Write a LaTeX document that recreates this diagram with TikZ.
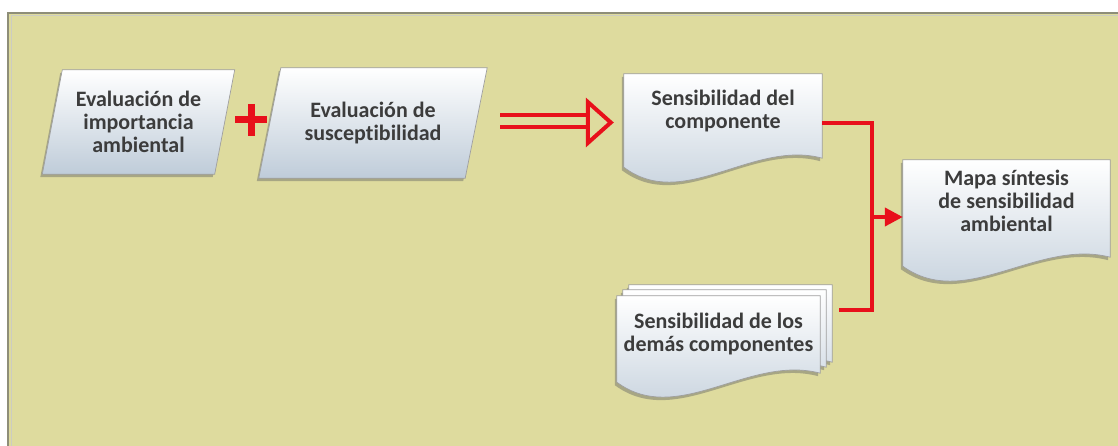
\documentclass[tikz,border=0pt]{standalone}
\usepackage{fontspec}
\setmainfont{Carlito}[Ligatures=NoCommon]
\usetikzlibrary{calc,shadows,arrows.meta}

\definecolor{fondo}{HTML}{DEDB9E}
\definecolor{marco}{HTML}{8E8E78}
\definecolor{rojo}{HTML}{E8101A}
\definecolor{texto}{HTML}{3C3C3C}
\definecolor{azul}{HTML}{BFCCD9}

\pgfdeclarelayer{framelayer}
\pgfdeclarelayer{bglayer}
\pgfsetlayers{framelayer,bglayer,main}

\tikzset{
  txt/.style={font=\fontsize{22}{23}\selectfont\bfseries, text=texto, align=center},
  box/.style={draw=gray!75, line width=0.7pt, top color=white, bottom color=azul,
    drop shadow={shadow xshift=-2pt, shadow yshift=-3pt, opacity=.45, fill=black!60}},
  link/.style={draw=rojo, line width=4pt}
}

% document shape round a named node, shifted by (#2,#3)
\newcommand{\docshape}[3]{%
  \path[box] ($(#1.north west)+(#2,#3)$) -- ($(#1.north east)+(#2,#3)$)
    -- ($(#1.south east)+(#2,#3-9)$)
    .. controls ($(#1.south east)!0.35!(#1.south west)+(#2,#3-28)$)
    and ($(#1.south east)!0.7!(#1.south west)+(#2,#3+45)$)
    .. ($(#1.south west)+(#2,#3)$) -- cycle;}

\begin{document}
\begin{tikzpicture}[x=1pt,y=-1pt]
\useasboundingbox (0,0) rectangle (1118,446);

\node[txt, minimum width=172pt, minimum height=104pt] (imp) at (138.5,122) {Evaluación de\\importancia\\ambiental};
\node[txt, minimum width=206pt, minimum height=110pt] (sus) at (373,123) {Evaluación de\\susceptibilidad};
\node[txt, minimum width=198pt, minimum height=93pt, text depth=22pt] (sens) at (723,120.5) {Sensibilidad del\\componente};
\node[txt, minimum width=207pt, minimum height=106pt, text depth=25pt] (mapa) at (1006.5,213) {Mapa síntesis\\de sensibilidad\\ambiental};
\node[txt, minimum width=203pt, minimum height=86pt, text depth=13pt] (otros) at (718.5,339) {Sensibilidad de los\\demás componentes};

\begin{pgfonlayer}{framelayer}
\fill[white] (0,0) rectangle (1118,446);
\fill[fondo] (8,13) rectangle (1118,446);
\draw[marco, line width=1.5pt] (8,446) -- (8,13) -- (1118,13);
\draw[marco!45, line width=1pt] (11,446) -- (11,16) -- (1118,16);
\end{pgfonlayer}

\begin{pgfonlayer}{bglayer}
\path[box] ($(imp.north west)+(10,0)$) -- ($(imp.north east)+(10,0)$) -- ($(imp.south east)+(-10,0)$) -- ($(imp.south west)+(-10,0)$) -- cycle;
\path[box] ($(sus.north west)+(11,0)$) -- ($(sus.north east)+(11,0)$) -- ($(sus.south east)+(-11,0)$) -- ($(sus.south west)+(-11,0)$) -- cycle;
\docshape{otros}{12}{-11}
\docshape{otros}{6}{-6}
\docshape{otros}{0}{0}
\docshape{sens}{0}{0}
\docshape{mapa}{0}{0}
\end{pgfonlayer}

\draw[rojo, line width=7pt] (235,120) -- (267,120) (251,104) -- (251,136);

\draw[rojo, line width=4pt, double=fondo, double distance=8pt] ($(sus.east)+(24,-2)$) -- ++(88,0);
\draw[rojo, line width=4pt, fill=fondo] ($(sens.west)+(-36,-18.5)$) -- ($(sens.west)+(-13,2)$) -- ($(sens.west)+(-36,22.5)$) -- cycle;

\coordinate (cruce) at (872,217);
\coordinate (salida) at (839,310);
\draw[link] ($(sens.east)+(0,2.5)$) -| (cruce) |- (salida);
\draw[link, -{Triangle[length=18pt,width=18pt]}] (cruce) -- (mapa.west |- cruce);
\end{tikzpicture}
\end{document}
